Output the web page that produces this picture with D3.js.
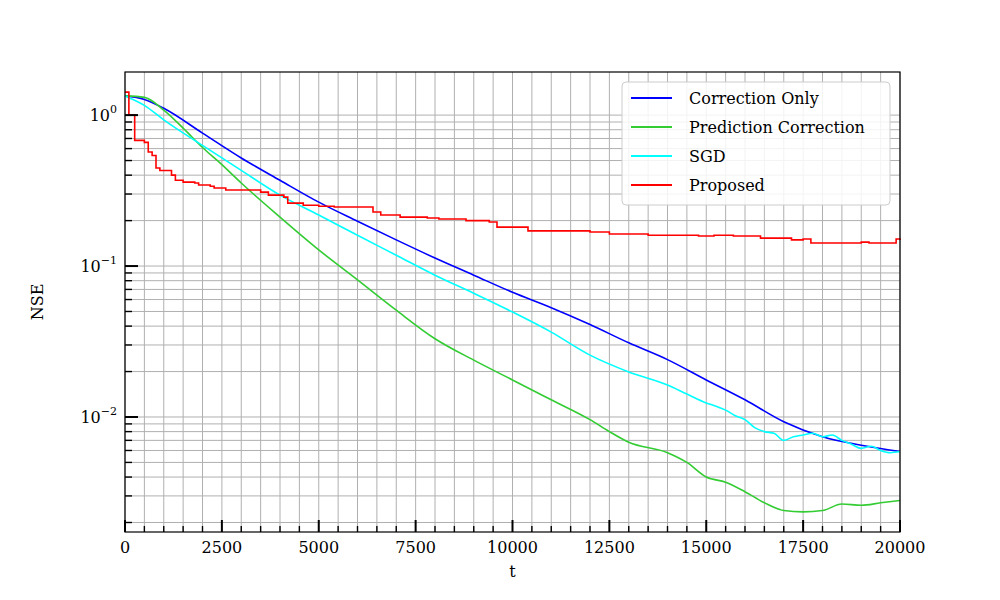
<!DOCTYPE html>
<html><head><meta charset="utf-8">
<script src="https://cdn.jsdelivr.net/npm/d3@7"></script>
<style>body{margin:0;background:#fff}svg text{font-family:"DejaVu Serif","Liberation Serif",serif}</style>
</head><body><svg id="c" width="1000" height="600"></svg>
<script>
const blueT = [0,500,1000,2000,3000,4000,5000,6000,7000,8000,9000,10000,11000,12000,13000,14000,15000,16000,17000,18000,19000,20000]
const blueV = [1.34,1.27,1.11,0.76,0.52,0.37,0.265,0.198,0.149,0.113,0.087,0.067,0.053,0.041,0.031,0.024,0.0176,0.013,0.0093,0.0074,0.0065,0.0059]
const greenT = [0,500,1000,1500,2000,2500,3000,4000,5000,6000,7000,8000,9000,10000,11000,12000,12500,13000,14000,14500,15000,15500,16000,16500,17000,17500,18000,18500,19000,19500,20000]
const greenV = [1.34,1.31,1.08,0.82,0.61,0.47,0.355,0.211,0.128,0.081,0.051,0.033,0.0238,0.0176,0.013,0.0096,0.0080,0.0068,0.0058,0.0050,0.0040,0.0037,0.0032,0.0027,0.0024,0.00235,0.0024,0.00265,0.0026,0.0027,0.0028]
const cyanT = [0,500,1000,2000,3000,4000,5000,6000,7000,8000,9000,10000,11000,12000,13000,14000,14500,15000,15250,15500,15750,16000,16250,16500,16750,17000,17250,17500,17750,18000,18250,18500,18750,19000,19250,19500,19750,20000]
const cyanV = [1.34,1.16,0.93,0.63,0.43,0.295,0.218,0.16,0.118,0.087,0.066,0.0496,0.0365,0.0257,0.0199,0.0163,0.0142,0.0124,0.0118,0.0111,0.0102,0.0096,0.0085,0.0080,0.0078,0.0070,0.0074,0.0076,0.0078,0.0074,0.0076,0.0070,0.0066,0.0062,0.0064,0.0060,0.0058,0.0059]
const redT = [0,100,250,500,600,700,800,900,1200,1300,1500,1800,1900,2200,2300,2600,3500,3700,4100,4200,4600,5000,5400,6400,6600,7100,7800,8100,8800,9400,9600,10400,12000,12500,13500,14800,15200,15700,16400,17200,17500,17700,19000,19200,19800,19900,20000]
const redV = [1.42,1.0,0.68,0.66,0.57,0.54,0.446,0.43,0.40,0.37,0.36,0.355,0.344,0.338,0.329,0.319,0.309,0.295,0.286,0.261,0.253,0.249,0.246,0.228,0.218,0.211,0.208,0.205,0.20,0.196,0.181,0.171,0.168,0.163,0.16,0.158,0.16,0.158,0.153,0.149,0.151,0.142,0.144,0.142,0.142,0.151,0.149]
const series = [
  {name:"Correction Only", color:"#0000ff", t:blueT, v:blueV},
  {name:"Prediction Correction", color:"#33cc33", t:greenT, v:greenV},
  {name:"SGD", color:"#00ffff", t:cyanT, v:cyanV},
  {name:"Proposed", color:"#ff0000", t:redT, v:redV, step:true}
]
const xTicks = [0,2500,5000,7500,10000,12500,15000,17500,20000]

const svg = d3.select("#c")
const L=125,R=900,T=72,B=532
const x = d3.scaleLinear().domain([0,20000]).range([L,R])
const y = d3.scaleLog().domain([0.00173,1.93]).range([B,T])

const minorX = d3.range(0,20001,500)
const minorY = []
;[0.001,0.01,0.1,1].forEach(d=>{for(let k=1;k<10;k++){const v=d*k; if(v>=0.00173&&v<=1.93) minorY.push(v)}})
const majorY = [0.01,0.1,1]

const g = svg.append("g")
g.selectAll(".gx").data(minorX).enter().append("line")
  .attr("x1",d=>x(d)).attr("x2",d=>x(d)).attr("y1",T).attr("y2",B)
  .attr("stroke","#b0b0b0").attr("stroke-width",1)
g.selectAll(".gy").data(minorY).enter().append("line")
  .attr("y1",d=>y(d)).attr("y2",d=>y(d)).attr("x1",L).attr("x2",R)
  .attr("stroke","#b0b0b0").attr("stroke-width",1)

series.forEach(s=>{
  const data = s.t.map((t,i)=>[t,s.v[i]])
  g.append("path").datum(data)
    .attr("fill","none").attr("stroke",s.color).attr("stroke-width",1.6)
    .attr("d",d3.line().x(d=>x(d[0])).y(d=>y(d[1])).curve(s.step?d3.curveStepAfter:d3.curveMonotoneX))
})

g.append("rect").attr("x",L).attr("y",T).attr("width",R-L).attr("height",B-T)
  .attr("fill","none").attr("stroke","#000").attr("stroke-width",1.2)

// inward ticks
g.selectAll(".tx").data(minorX).enter().append("line")
  .attr("x1",d=>x(d)).attr("x2",d=>x(d)).attr("y1",B)
  .attr("y2",d=>B-(xTicks.includes(d)?12:6)).attr("stroke","#000").attr("stroke-width",d=>xTicks.includes(d)?2:1.4)
g.selectAll(".ty").data(minorY).enter().append("line")
  .attr("y1",d=>y(d)).attr("y2",d=>y(d)).attr("x1",L)
  .attr("x2",d=>L+(majorY.includes(d)?13:7)).attr("stroke","#000").attr("stroke-width",d=>majorY.includes(d)?2:1.4)

g.selectAll(".lx").data(xTicks).enter().append("text")
  .attr("x",d=>x(d)).attr("y",B+21).attr("text-anchor","middle").attr("font-size",16).text(d=>d)
const ly = g.selectAll(".ly").data(majorY).enter().append("text")
  .attr("x",L-8).attr("y",d=>y(d)+6).attr("text-anchor","end").attr("font-size",16)
ly.text("10")
ly.append("tspan").attr("dy",-8).attr("font-size",11).text(d=>d===1?"0":"\u2212"+Math.round(-Math.log10(d)))

svg.append("text").attr("x",(L+R)/2).attr("y",577).attr("text-anchor","middle").attr("font-size",16).text("t")
svg.append("text").attr("transform",`translate(43,${(T+B)/2}) rotate(-90)`).attr("text-anchor","middle").attr("font-size",16).text("NSE")

const lg = svg.append("g").attr("transform","translate(622,82)")
lg.append("rect").attr("width",268).attr("height",123).attr("rx",4)
  .attr("fill","#fff").attr("fill-opacity",0.85).attr("stroke","#ccc")
series.forEach((s,i)=>{
  const yy = 16+i*29
  lg.append("line").attr("x1",9).attr("x2",50).attr("y1",yy).attr("y2",yy).attr("stroke",s.color).attr("stroke-width",1.8)
  lg.append("text").attr("x",67).attr("y",yy+6).attr("font-size",16).text(s.name)
})
</script></body></html>
